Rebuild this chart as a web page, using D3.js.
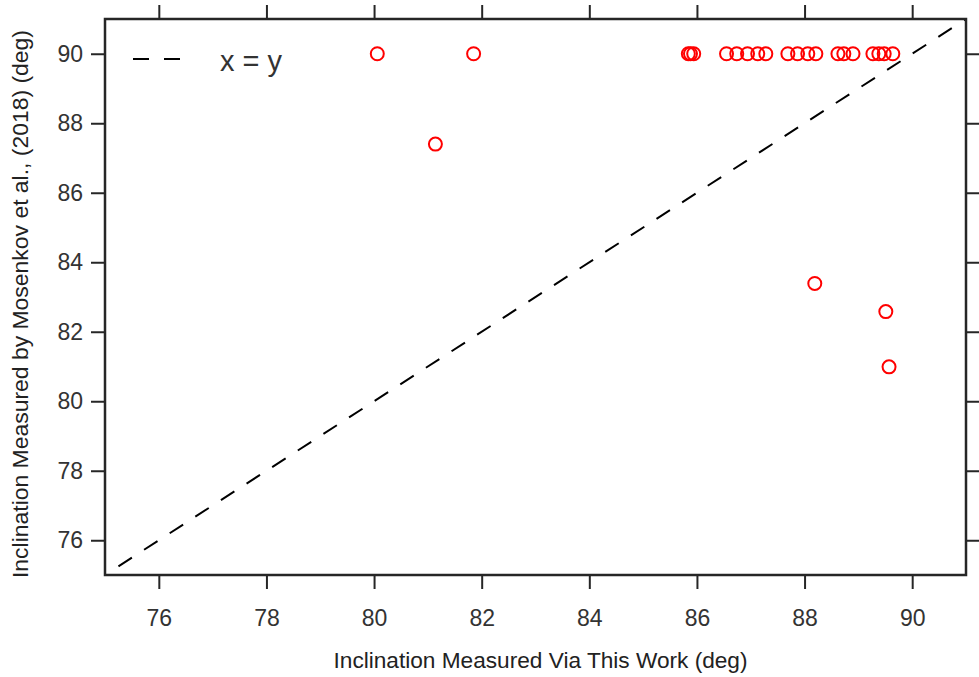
<!DOCTYPE html>
<html>
<head>
<meta charset="utf-8">
<script src="https://cdn.jsdelivr.net/npm/d3@7"></script>
<style>
	body { margin: 0; background: #fff; }
	text { font-family: "Liberation Sans", Arial, Helvetica, sans-serif; }
</style>
</head>
<body>
<div id="chart"></div>
<script>
'use strict'

// inclinaisons (deg) : ce travail vs Mosenkov et al. (2018)
var thisWork = [
	85.84, 85.88, 85.94, 86.55, 86.74, 86.94, 87.13, 87.28,
	87.69, 87.87, 88.06, 88.21, 88.62, 88.73, 88.90,
	89.27, 89.38, 89.48, 89.64,
	80.06, 81.85, 81.14, 88.19, 89.51, 89.57
];
var mosenkov = [
	90, 90, 90, 90, 90, 90, 90, 90,
	90, 90, 90, 90, 90, 90, 90,
	90, 90, 90, 90,
	90, 90, 87.40, 83.39, 82.58, 80.99
];
var tickValues = [76, 78, 80, 82, 84, 86, 88, 90];
var domain = [75, 91];

var width = 979;
var height = 677;
var margin = {left: 105, right: 13, top: 19, bottom: 102};

var svg = d3.select("#chart")
	.append('svg')
	.attr("width", width)
	.attr("height", height);

var x = d3.scaleLinear().domain(domain).range([margin.left, width - margin.right]);
var y = d3.scaleLinear().domain(domain).range([height - margin.bottom, margin.top]);

var frameColor = '#262626';
var labelColor = '#333';

function styleAxis(g){
	g.select('.domain').remove();
	g.selectAll('.tick line').attr('stroke', frameColor).attr('stroke-width', 2);
	g.selectAll('.tick text')
		.attr('fill', labelColor)
		.style('font-size', '23px');
}

// axes (ticks vers l'extérieur sur les 4 côtés)
svg.append('g')
	.attr('transform', `translate(0,${y.range()[0]})`)
	.call(d3.axisBottom(x).tickValues(tickValues).tickSize(14).tickPadding(21).tickFormat(d3.format('d')))
	.call(styleAxis);
svg.append('g')
	.attr('transform', `translate(0,${y.range()[1]})`)
	.call(d3.axisTop(x).tickValues(tickValues).tickSize(14).tickFormat(''))
	.call(styleAxis);
svg.append('g')
	.attr('transform', `translate(${x.range()[0]},0)`)
	.call(d3.axisLeft(y).tickValues(tickValues).tickSize(14).tickPadding(8).tickFormat(d3.format('d')))
	.call(styleAxis);
svg.append('g')
	.attr('transform', `translate(${x.range()[1]},0)`)
	.call(d3.axisRight(y).tickValues(tickValues).tickSize(14).tickFormat(''))
	.call(styleAxis);

// ligne x = y
svg.append('line')
	.attr('x1', x(75.25)).attr('y1', y(75.25))
	.attr('x2', x(91)).attr('y2', y(91))
	.attr('stroke', 'black')
	.attr('stroke-width', 2)
	.attr('stroke-dasharray', '16,14.5');

// points
svg.append('g')
	.selectAll('circle')
	.data(thisWork.map((d, i) => [d, mosenkov[i]]))
	.enter()
	.append('circle')
		.attr('cx', d => x(d[0]))
		.attr('cy', d => y(d[1]))
		.attr('r', 6.5)
		.attr('fill', 'none')
		.attr('stroke', 'red')
		.attr('stroke-width', 2);

// cadre
svg.append('rect')
	.attr('x', x.range()[0]).attr('y', y.range()[1])
	.attr('width', x.range()[1] - x.range()[0])
	.attr('height', y.range()[0] - y.range()[1])
	.attr('fill', 'none')
	.attr('stroke', frameColor)
	.attr('stroke-width', 2.5);

// légende
svg.append('line')
	.attr('x1', 133).attr('x2', 180)
	.attr('y1', 59).attr('y2', 59)
	.attr('stroke', 'black')
	.attr('stroke-width', 2)
	.attr('stroke-dasharray', '16,15');
svg.append('text')
	.attr('x', 220).attr('y', 61)
	.attr('dominant-baseline', 'central')
	.style('font-size', '29px')
	.style('fill', labelColor)
	.text('x = y');

// titres des axes
svg.append('text')
	.attr('x', (x.range()[0] + x.range()[1]) / 2 + 5)
	.attr('y', 668)
	.attr('text-anchor', 'middle')
	.attr('textLength', 414)
	.attr('lengthAdjust', 'spacingAndGlyphs')
	.style('font-size', '22px')
	.style('fill', '#222')
	.text('Inclination Measured Via This Work (deg)');
svg.append('text')
	.attr('transform', `translate(28,${(y.range()[0] + y.range()[1]) / 2 + 7}) rotate(-90)`)
	.attr('text-anchor', 'middle')
	.attr('textLength', 548)
	.attr('lengthAdjust', 'spacingAndGlyphs')
	.style('font-size', '22px')
	.style('fill', '#222')
	.text('Inclination Measured by Mosenkov et al., (2018) (deg)');
</script>
</body>
</html>
